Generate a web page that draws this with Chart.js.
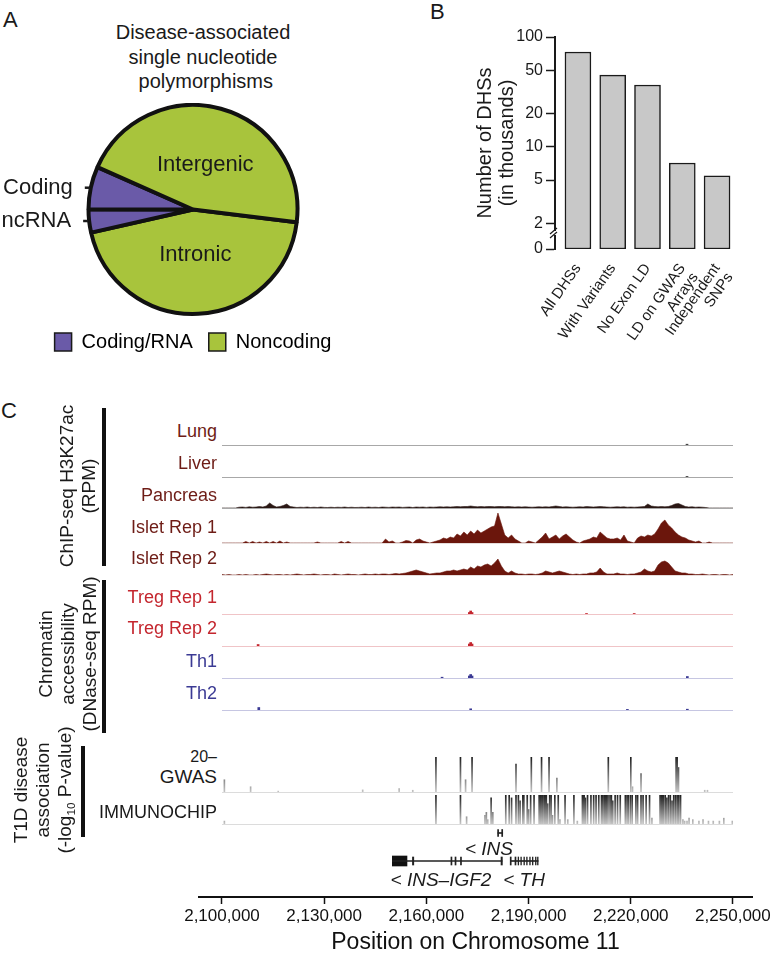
<!DOCTYPE html>
<html>
<head>
<meta charset="utf-8">
<script src="https://cdn.jsdelivr.net/npm/chart.js@4.4.1/dist/chart.umd.min.js"></script>
<style>
  html, body { margin: 0; padding: 0; background: #fff; }
  #fig { position: relative; width: 777px; height: 956px; overflow: hidden; background: #fff;
         font-family: 'Liberation Sans', Arial, Helvetica, sans-serif; color: #1a1a1a; }
  #fig canvas { position: absolute; }
  .txt { position: absolute; white-space: nowrap; line-height: 1; }
  .rule { position: absolute; background: #111; }
  sub { font-size: 0.62em; vertical-align: -0.3em; }
</style>
</head>
<body>
<div id="fig"></div>
<script>
// ---------- Panel A: disease-associated SNPs ----------
const snpClasses = ['Intronic', 'ncRNA', 'Coding', 'Intergenic'];
const snpShare = [44.5, 3.6, 6.6, 45.3];
const snpGroup = ['Noncoding', 'Coding/RNA', 'Coding/RNA', 'Noncoding'];
const legendGroups = ['Coding/RNA', 'Noncoding'];

// ---------- Panel B: number of DHSs (thousands) ----------
const dhsSets = ['All DHSs', 'With Variants', 'No Exon LD', ['LD on GWAS', 'Arrays'], ['Independent', 'SNPs']];
const dhsThousands = [73, 45, 36.6, 7.15, 5.45];
const dhsTicks = [2, 5, 10, 20, 50, 100];
const dhsFloor = 1.18; // bottom of the broken axis, labelled "0"

// ---------- Panel C: chr11 window, 1 kb bins ----------
const startKb = 2100, endKb = 2250;
const binKb = Array.from({ length: endKb - startKb + 1 }, (_, i) => startKb + i);
const genomeTicksKb = [2100, 2130, 2160, 2190, 2220, 2250];

const pancreasSignal = [
  0, 0, 0, 0, 0, 0.8, 1, 0.6, 1.2, 0.8,
  1, 1.5, 1, 2, 5, 2.5, 1, 1.5, 2.5, 4,
  1.5, 1, 0.5, 0.8, 0.6, 1, 0.5, 0.8, 0.5, 1,
  0.6, 0.5, 0.8, 0.5, 0.8, 0.6, 1, 0.5, 0.8, 0.5,
  0.6, 0.8, 0.5, 1, 0.6, 0.8, 0.5, 1, 0.8, 0.6,
  1, 0.8, 1, 0.6, 0.8, 1, 0.5, 1, 0.8, 1,
  0.6, 1, 0.8, 1, 1.2, 1, 1.2, 1, 1.2, 1.5,
  1.2, 1.5, 1.5, 2, 1.5, 1.2, 1.5, 1.2, 1.5, 1.5,
  1.2, 1.5, 1.5, 1.2, 1.5, 1.2, 1, 1.2, 1, 1.2,
  1, 0.8, 1, 1.2, 1, 1.2, 1, 1.5, 2, 1.5,
  1, 1.2, 1, 0.8, 1, 1.2, 1, 1.5, 1.2, 1,
  1.2, 1.5, 1.2, 1, 0.8, 1, 1.2, 1, 1.2, 0.8,
  1, 0.8, 1, 1.2, 1.5, 4, 2, 1.5, 1.2, 1.5,
  1.2, 1.5, 2.5, 4, 4.5, 3, 1.5, 1, 1.2, 0.8,
  1, 0.8, 0.5, 0, 0, 0, 0, 0, 0, 0,
  0
];
const isletRep1Signal = [
  0, 0, 0, 0, 0, 0, 0, 1.5, 0, 1.5,
  0, 1, 0, 1.5, 0, 1.5, 0, 2, 0, 1,
  0, 0, 0, 0, 0, 0, 0, 0, 1, 0,
  0, 0, 0, 0, 0, 1.5, 0, 1.5, 0, 0,
  0, 0, 0, 0, 0, 0, 0, 0, 4, 1,
  2, 0, 0, 1, 2.5, 2, 0, 3, 4, 2,
  1, 0, 1, 2, 3, 5, 4, 6, 5, 9,
  7, 11, 8, 12, 9, 13, 10, 12, 14, 16,
  17, 30, 19, 8, 5, 8, 4, 2, 0, 0,
  2, 1, 0, 3, 6, 10, 4, 6, 8, 4,
  7, 9, 6, 3, 1, 0, 2, 3, 4, 6,
  5, 11, 8, 5, 4, 4, 5, 3, 8, 2,
  1, 0, 5, 7, 6, 8, 7, 9, 14, 20,
  23, 18, 15, 11, 8, 6, 5, 3, 2, 1,
  2, 0, 0, 1, 0, 0, 0, 0, 0, 0,
  0
];
const isletRep2Signal = [
  0.5, 0, 0.5, 0, 0, 0.5, 0, 0.5, 0, 0,
  0.5, 0, 0.5, 1, 0.5, 0, 0.5, 0.5, 0, 0.5,
  0, 0.5, 1, 0.5, 0, 0.5, 0.5, 1, 0.5, 0,
  0.5, 0.5, 0, 1, 0.5, 0, 0.5, 1, 0.5, 0.5,
  0, 0.5, 1, 0.5, 0.5, 1, 0.5, 1, 1, 0.5,
  1, 1.5, 1, 1.5, 2, 3, 4, 5, 4, 3,
  2, 1, 1.5, 2, 2, 3, 4, 4, 5, 4,
  5, 6, 5, 8, 6, 9, 8, 10, 11, 9,
  12, 16, 9, 4, 2, 4, 2, 1, 1, 0.5,
  1, 1, 0.5, 1, 2, 4, 3, 2, 3, 4,
  3, 2, 1, 0.5, 1, 0.5, 1, 1, 2, 2,
  3, 7, 3, 1, 1, 1, 2, 1, 1, 0.5,
  1, 1, 2, 3, 6, 4, 3, 4, 10, 13,
  14, 12, 8, 4, 3, 2, 2, 1, 1, 0.5,
  0.5, 1, 0.5, 0, 0.5, 0.5, 0, 0.5, 0.5, 0,
  0.5
];
// sparse tracks: [kb, value]
const lungSignal = [[2236.5, 0.8]];
const liverSignal = [[2236.5, 0.6]];
const tregRep1Signal = [[2172.6, 1.5], [2173.0, 3], [2173.4, 1.5], [2207, 0.5], [2221, 0.5]];
const tregRep2Signal = [[2110.6, 1.5], [2172.6, 2], [2173.0, 3.5], [2173.4, 2]];
const th1Signal = [[2164.6, 0.8], [2172.6, 2], [2173.0, 3.5], [2173.4, 2], [2236.6, 1.5]];
const th2Signal = [[2110.8, 2.5], [2173.0, 1.2], [2219, 0.6], [2236.6, 0.8]];

// T1D association, -log10 P  [kb, value]
const gwasHits = [
  [2100.7, 7], [2108.4, 3], [2116.5, 0.5], [2141.3, 1.2], [2152.0, 2], [2156.0, 1],
  [2162.8, 20], [2170.0, 20], [2171.5, 7], [2173.4, 20], [2186.3, 16], [2190.8, 20],
  [2193.8, 20], [2196.0, 20], [2198.3, 8], [2213.4, 20], [2220.0, 20], [2220.5, 3],
  [2223.0, 10.5], [2233.3, 20], [2233.6, 20], [2234.0, 14], [2241.7, 1], [2242.5, 1]
];
const immunochipHits = [
  [2100.7, 2], [2162.8, 20], [2170.0, 20], [2171.8, 5],
  [2177.2, 6], [2177.6, 8], [2178.0, 3], [2179.0, 18], [2179.5, 8],
  [2183.3, 20], [2184.3, 20], [2185.0, 18], [2186.3, 20], [2187.0, 20], [2187.5, 16], [2188.3, 20],
  [2188.6, 20], [2189.6, 20], [2190.0, 10], [2190.6, 20], [2191.6, 20],
  [2193.1, 20], [2193.5, 20], [2193.9, 20], [2194.2, 20], [2194.6, 20], [2195.0, 20], [2195.2, 20],
  [2195.6, 14], [2196.2, 20], [2196.6, 20], [2197.0, 6], [2197.7, 20], [2198.7, 20], [2199.2, 3],
  [2200.7, 20], [2201.5, 3], [2203.3, 20], [2204.3, 2],
  [2205.8, 20], [2206.0, 20], [2206.3, 20], [2206.7, 18], [2207.3, 20], [2208.3, 20], [2209.1, 20],
  [2209.8, 20], [2210.6, 20], [2211.4, 20], [2211.8, 20], [2212.2, 20], [2212.6, 20], [2212.9, 20],
  [2213.3, 20], [2213.9, 20], [2214.3, 20], [2214.7, 16], [2215.4, 20], [2216.1, 20], [2216.9, 20],
  [2218.4, 20], [2218.9, 20], [2219.3, 20], [2219.9, 20], [2220.4, 20], [2221.5, 20], [2222.0, 20],
  [2223.0, 20], [2223.6, 20], [2224.5, 20], [2225.5, 20], [2226.2, 4],
  [2228.6, 20], [2229.0, 20], [2229.3, 20], [2229.6, 20], [2230.1, 20], [2230.6, 18], [2231.1, 20],
  [2231.6, 20], [2232.1, 16], [2232.6, 20], [2233.1, 20], [2233.6, 20], [2234.1, 20], [2234.6, 20],
  [2235.3, 3], [2235.8, 2], [2236.5, 2], [2237.1, 4], [2238.2, 3], [2240.0, 2], [2241.2, 3],
  [2242.8, 2], [2244.2, 2], [2246.0, 2], [2247.3, 4], [2249.8, 2]
];

// gene models: [row, startKb, endKb]; row 0 = INS, row 1 = INS-IGF2 and TH
const geneIntrons = [[0, 2181.0, 2182.4], [1, 2150.0, 2182.2], [1, 2184.7, 2192.8]];
const geneUtr = [[1, 2150.0, 2154.3]];
const geneExons = [
  [1, 2155.9, 2156.3], [1, 2167.2, 2167.5], [1, 2168.4, 2168.7], [1, 2170.0, 2170.3], [1, 2181.9, 2182.3],
  [1, 2184.6, 2184.9], [1, 2186.0, 2186.3], [1, 2186.9, 2187.1], [1, 2187.7, 2187.9], [1, 2188.6, 2188.8],
  [1, 2189.4, 2189.6], [1, 2190.3, 2190.5], [1, 2191.1, 2191.3], [1, 2192.0, 2192.2], [1, 2192.6, 2192.8]
];
const insExons = [[0, 2180.9, 2181.2], [0, 2182.1, 2182.4]];

// ---------- helpers ----------
Chart.defaults.font.family = "'Liberation Sans', Arial, Helvetica, sans-serif";
Chart.defaults.color = '#1a1a1a';
Chart.defaults.animation = false;
Chart.defaults.responsive = false;
Chart.defaults.events = [];
Chart.defaults.plugins.legend.display = false;
Chart.defaults.plugins.tooltip.enabled = false;

const fig = document.getElementById('fig');

function makeCanvas(left, top, width, height) {
  const c = document.createElement('canvas');
  c.width = width; c.height = height;
  c.style.left = left + 'px'; c.style.top = top + 'px';
  c.style.width = width + 'px'; c.style.height = height + 'px';
  fig.appendChild(c);
  return c;
}

function addText(html, x, y, opt = {}) {
  const d = document.createElement('div');
  d.className = 'txt';
  d.innerHTML = html;
  const align = opt.align || 'left';
  const shift = align === 'right' ? '-100%' : align === 'center' ? '-50%' : '0';
  d.style.left = x + 'px';
  d.style.top = y + 'px';
  d.style.fontSize = (opt.size || 18) + 'px';
  d.style.color = opt.color || '#1a1a1a';
  d.style.textAlign = align;
  if (opt.lh) d.style.lineHeight = opt.lh + 'px';
  if (opt.italic) d.style.fontStyle = 'italic';
  d.style.transform = `translate(${shift},-50%)` + (opt.rotate ? ' rotate(-90deg)' : '');
  fig.appendChild(d);
}

function addRule(left, top, width, height) {
  const d = document.createElement('div');
  d.className = 'rule';
  Object.assign(d.style, { left: left + 'px', top: top + 'px', width: width + 'px', height: height + 'px' });
  fig.appendChild(d);
}

// ---------- Panel A ----------
const groupColor = { 'Coding/RNA': '#6a5aa8', 'Noncoding': '#a8c43c' };

const pieCallouts = {
  id: 'pieCallouts',
  afterDatasetsDraw(chart) {
    const { ctx } = chart;
    const arcs = chart.getDatasetMeta(0).data;
    ctx.save();
    ctx.fillStyle = '#1a1a1a';
    ctx.strokeStyle = '#1a1a1a';
    ctx.font = "22px 'Liberation Sans', Arial, sans-serif";
    ctx.textBaseline = 'middle';
    arcs.forEach((arc, i) => {
      const { x, y, startAngle, endAngle, outerRadius } = arc.getProps(['x', 'y', 'startAngle', 'endAngle', 'outerRadius'], true);
      const mid = (startAngle + endAngle) / 2;
      if (snpGroup[i] === 'Noncoding') {
        ctx.textAlign = 'center';
        ctx.fillText(snpClasses[i], x + Math.cos(mid) * outerRadius * 0.44, y + Math.sin(mid) * outerRadius * 0.44);
      } else {
        const ex = x + Math.cos(mid) * outerRadius, ey = y + Math.sin(mid) * outerRadius;
        ctx.lineWidth = 2.5;
        ctx.beginPath(); ctx.moveTo(ex - 1, ey); ctx.lineTo(ex - 6, ey); ctx.stroke();
        ctx.textAlign = 'right';
        ctx.fillText(snpClasses[i], ex - 18, ey);
      }
    });
    ctx.restore();
  }
};

new Chart(makeCanvas(0, 103, 386, 259), {
  type: 'pie',
  data: {
    labels: snpClasses,
    datasets: [{
      data: snpShare,
      backgroundColor: snpGroup.map(g => groupColor[g]),
      borderColor: '#111',
      borderWidth: 4
    }]
  },
  options: {
    rotation: 97,
    layout: { padding: 0 },
    plugins: {
      legend: {
        display: true,
        position: 'bottom',
        labels: {
          boxWidth: 17, boxHeight: 18, padding: 16,
          font: { size: 20 }, color: '#1a1a1a',
          generateLabels: () => legendGroups.map((g, i) => ({
            text: g, fillStyle: groupColor[g], strokeStyle: '#1a1a1a', lineWidth: 1.5, hidden: false, index: i
          }))
        }
      }
    }
  },
  plugins: [pieCallouts]
});

addText('A', 3, 20, { size: 22 });
addText('Disease-associated<br>single nucleotide<br>&nbsp;polymorphisms', 203, 57, { size: 20, lh: 24.5, align: 'center' });

// ---------- Panel B ----------
const axisBreak = {
  id: 'axisBreak',
  afterDraw(chart) {
    const { ctx } = chart;
    const ys = chart.scales.y;
    const x = ys.right, y = ys.getPixelForValue(1.65);
    ctx.save();
    ctx.fillStyle = '#fff';
    ctx.fillRect(x - 2, y - 2, 4, 4);
    ctx.strokeStyle = '#1a1a1a';
    ctx.lineWidth = 1.2;
    [-2, 2].forEach(o => {
      ctx.beginPath(); ctx.moveTo(x - 5, y + o + 3); ctx.lineTo(x + 2, y + o - 3); ctx.stroke();
    });
    ctx.restore();
  }
};

new Chart(makeCanvas(470, 0, 307, 350), {
  type: 'bar',
  data: {
    datasets: [{
      data: dhsThousands.map((v, i) => ({ x: i, y: v })),
      backgroundColor: '#c8c8c8',
      borderColor: '#1a1a1a',
      borderWidth: 1.5,
      borderSkipped: false,
      barThickness: 26
    }]
  },
  options: {
    layout: { padding: { top: 37, right: 37, left: 0, bottom: 0 } },
    scales: {
      x: {
        type: 'linear', min: -0.66, max: 4.66, offset: false,
        afterBuildTicks: s => { s.ticks = dhsSets.map((_, i) => ({ value: i })); },
        afterFit: s => { s.height = 101; },
        grid: { display: false }, border: { display: false },
        ticks: {
          autoSkip: false, minRotation: 55, maxRotation: 55, padding: 4,
          font: { size: 15, lineHeight: 1.05 }, color: '#1a1a1a',
          callback: v => dhsSets[v]
        }
      },
      y: {
        type: 'logarithmic', min: dhsFloor, max: 100, beginAtZero: false,
        afterBuildTicks: s => { s.ticks = [dhsFloor, ...dhsTicks].map(v => ({ value: v })); },
        afterFit: s => { s.width = 85; },
        grid: { drawOnChartArea: false, tickLength: 9, tickColor: '#1a1a1a', tickWidth: 1.5 },
        border: { color: '#1a1a1a', width: 2 },
        ticks: { font: { size: 16 }, color: '#1a1a1a', padding: 3, callback: v => v === dhsFloor ? '0' : String(v) },
        title: {
          display: true, text: ['Number of DHSs', '(in thousands)'],
          font: { size: 20, lineHeight: 1.1 }, color: '#1a1a1a', padding: { top: 4, bottom: 0 }
        }
      }
    }
  },
  plugins: [axisBreak]
});

addText('B', 430, 12, { size: 22 });

// ---------- Panel C ----------
const TRACK_LEFT = 222, TRACK_WIDTH = 511;

const trackRows = [
  { signal: lungSignal,      label: 'Lung',        labelY: 431, base: 445, ink: '#6e1c16', fill: '#444',    rule: '#a8a8a8', dash: [1, 3] },
  { signal: liverSignal,     label: 'Liver',       labelY: 463, base: 477, ink: '#6e1c16', fill: '#444',    rule: '#a8a8a8', dash: [1, 3] },
  { signal: pancreasSignal,  label: 'Pancreas',    labelY: 495, base: 508, ink: '#6e1c16', fill: '#2a1714', rule: '#a8a8a8', dash: [1, 3] },
  { signal: isletRep1Signal, label: 'Islet Rep 1', labelY: 527, base: 543, ink: '#6e1c16', fill: '#6b160c', rule: '#e6dcda' },
  { signal: isletRep2Signal, label: 'Islet Rep 2', labelY: 558, base: 575, ink: '#6e1c16', fill: '#6b160c', rule: '#e6dcda' },
  { signal: tregRep1Signal,  label: 'Treg Rep 1',  labelY: 597, base: 614, ink: '#c4262e', fill: '#c4262e', rule: '#f0c4c7' },
  { signal: tregRep2Signal,  label: 'Treg Rep 2',  labelY: 628, base: 646, ink: '#c4262e', fill: '#c4262e', rule: '#f0c4c7' },
  { signal: th1Signal,       label: 'Th1',         labelY: 661, base: 678, ink: '#3b3a94', fill: '#3b3a94', rule: '#c6c6e2' },
  { signal: th2Signal,       label: 'Th2',         labelY: 693, base: 710, ink: '#3b3a94', fill: '#3b3a94', rule: '#c6c6e2' }
];

function drawTrack(signal, base, yMax, bandPx, style) {
  const canvas = makeCanvas(TRACK_LEFT, base - bandPx - 2, TRACK_WIDTH, bandPx + 6);
  const spiky = Array.isArray(signal[0]);
  const points = spiky ? signal.map(([x, y]) => ({ x, y })) : signal.map((y, i) => ({ x: binKb[i], y }));
  const dataset = spiky
    ? { data: points, backgroundColor: style.fill, barThickness: style.thickness || 2, grouped: false }
    : { data: points, fill: 'origin', backgroundColor: style.fill, borderColor: style.fill, borderWidth: 0.6, pointRadius: 0, tension: 0 };
  return new Chart(canvas, {
    type: spiky ? 'bar' : 'line',
    data: { datasets: [dataset] },
    options: {
      layout: { padding: { top: 2, bottom: 4, left: 0, right: 0 } },
      scales: {
        x: {
          type: 'linear', min: startKb, max: endKb, offset: false,
          ticks: { display: false }, grid: { display: false, drawTicks: false },
          border: { display: true, color: style.rule, width: 1, dash: style.dash || [] },
          afterFit: s => { s.height = 0; }
        },
        y: { display: false, min: 0, max: yMax }
      }
    }
  });
}

trackRows.forEach(row => {
  drawTrack(row.signal, row.base, 30, 30, row);
  addText(row.label, 217, row.labelY, { size: 18, align: 'right', color: row.ink });
});

const spikeShade = c => {
  const { ctx, chartArea } = c.chart;
  if (!chartArea) return '#444';
  const g = ctx.createLinearGradient(0, chartArea.top, 0, chartArea.bottom);
  g.addColorStop(0, '#1e1e1e');
  g.addColorStop(1, '#c4c4c4');
  return g;
};
drawTrack(gwasHits, 792, 20, 35, { fill: spikeShade, thickness: 1, rule: '#dcdcdc' });
drawTrack(immunochipHits, 824, 20, 29, { fill: spikeShade, thickness: 1, rule: '#dcdcdc' });
addText('20–', 217, 757, { size: 16, align: 'right' });
addText('GWAS', 217, 776, { size: 19, align: 'right' });
addText('IMMUNOCHIP', 217, 812, { size: 18, align: 'right' });

// gene models
const toBars = list => list.map(([r, a, b]) => ({ y: r, x: [a, b] }));
new Chart(makeCanvas(TRACK_LEFT, 819, TRACK_WIDTH, 56), {
  type: 'bar',
  data: {
    datasets: [
      { data: toBars(geneIntrons), backgroundColor: '#222', barThickness: 1, grouped: false },
      { data: toBars(geneUtr), backgroundColor: '#111', barThickness: 10, grouped: false },
      { data: toBars(geneExons), backgroundColor: '#222', barThickness: 8, grouped: false },
      { data: toBars(insExons), backgroundColor: '#222', barThickness: 7, grouped: false }
    ]
  },
  options: {
    indexAxis: 'y',
    layout: { padding: 0 },
    scales: {
      x: { type: 'linear', min: startKb, max: endKb, display: false },
      y: { type: 'linear', min: -0.5, max: 1.5, reverse: true, display: false, offset: false }
    }
  }
});
addText('&lt; INS', 489, 848, { size: 19, align: 'center', italic: true });
addText('&lt; INS–IGF2', 441, 879, { size: 19, align: 'center', italic: true });
addText('&lt; TH', 524, 879, { size: 19, align: 'center', italic: true });

// genome axis
new Chart(makeCanvas(160, 885, 617, 71), {
  type: 'scatter',
  data: { datasets: [{ data: [] }] },
  options: {
    layout: { padding: { left: 39, right: 25, top: 0, bottom: 0 } },
    scales: {
      x: {
        type: 'linear', display: true, min: 2093.25, max: 2255.6,
        afterBuildTicks: s => { s.ticks = genomeTicksKb.map(v => ({ value: v })); },
        afterFit: s => { s.height = 59; },
        grid: { drawOnChartArea: false, tickLength: 7, tickColor: '#111', tickWidth: 1.5 },
        border: { color: '#111', width: 2 },
        ticks: { font: { size: 17 }, color: '#111', padding: 2, maxRotation: 0, callback: v => (v * 1000).toLocaleString('en-US') },
        title: { display: true, text: 'Position on Chromosome 11', font: { size: 23 }, color: '#111', padding: { top: 2, bottom: 0 } }
      },
      y: { display: false }
    }
  }
});

// group brackets and titles
addText('C', 1, 411, { size: 22 });
addRule(102, 408, 4, 158);
addRule(102, 580, 4, 153);
addRule(81, 746, 4, 91);
addText('ChIP-seq H3K27ac<br>(RPM)', 78, 486, { size: 19, lh: 22, align: 'center', rotate: true });
addText('Chromatin<br>accessibility<br>(DNase-seq RPM)', 68, 654, { size: 19, lh: 22, align: 'center', rotate: true });
addText('T1D disease<br>association<br>(-log<sub>10</sub> P-value)', 46, 790, { size: 19, lh: 22, align: 'center', rotate: true });
</script>
</body>
</html>
